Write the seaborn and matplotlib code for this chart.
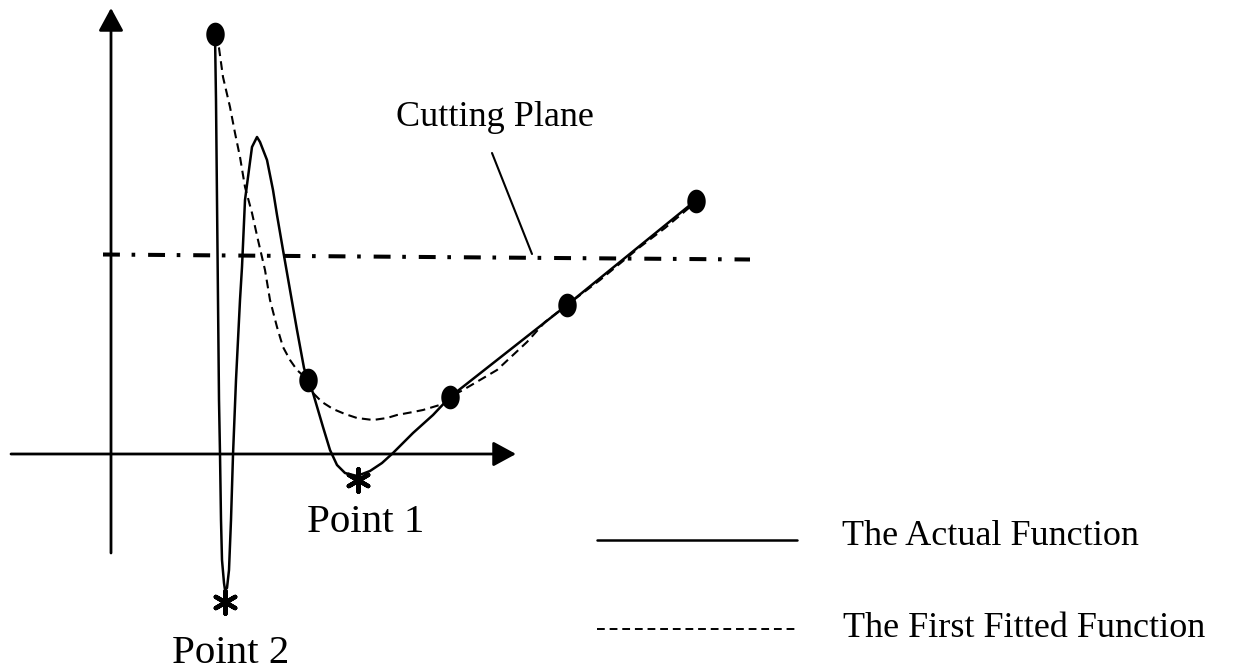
import numpy as np
import seaborn as sns
import matplotlib.pyplot as plt
from matplotlib.path import Path

# diagram drawn in pixel-like units (x to the right, y downward)
actual_x = [215, 216, 217, 218, 219, 220, 221, 222, 224, 225, 227, 229, 231, 233, 236, 240, 242, 245,
            250, 252, 257, 260, 267, 273, 277, 283, 290, 297, 304, 308, 313, 318, 323, 330, 337, 345,
            357, 370, 382, 393, 413, 433, 450, 567, 695]
actual_y = [34, 100, 200, 300, 400, 454, 520, 560, 583, 590, 588, 570, 520, 455, 380, 300, 267, 200,
            162, 147, 137, 142, 160, 190, 215, 250, 290, 330, 368, 380, 393, 410, 427, 450, 465, 473,
            476, 471, 463, 453, 433, 415, 397, 305, 201]

fitted_x = [215, 219, 223, 230, 235, 240, 245, 252, 258, 265, 270, 277, 283, 290, 297, 308, 313, 322,
            333, 345, 357, 373, 387, 397, 413, 423, 443, 450, 463, 497, 527, 545, 567, 600, 640, 665,
            690, 695]
fitted_y = [34, 48, 77, 107, 133, 157, 187, 213, 240, 270, 300, 327, 347, 360, 370, 380, 393, 402,
            409, 414, 418, 420, 418, 415, 412, 410, 404, 397, 390, 370, 342, 322, 305, 280, 247, 228,
            207, 201]

node_x = [215, 308, 450, 567, 696]
node_y = [34, 380, 397, 305, 201]

minima_x = [358, 225]
minima_y = [480, 602]
minima_labels = ["Point 1", "Point 2"]
label_x = [307, 172]
label_y = [532, 663]

plane_x = [103, 750]
plane_y = [254.5, 259.5]
leader_x = [492, 532]
leader_y = [153, 254]

legend_labels = ["The Actual Function", "The First Fitted Function"]
legend_y = [540, 629]

sns.set_style("white")
plt.rcParams["font.family"] = ["Liberation Serif", "DejaVu Serif"]
plt.rcParams["text.color"] = "black"

fig = plt.figure(figsize=(12.35, 6.71), dpi=100)
ax = fig.add_axes([0, 0, 1, 1])
ax.set_xlim(0, 1235)
ax.set_ylim(671, 0)
ax.axis("off")

# coordinate axes with arrow heads
arrow = dict(arrowstyle="-|>,head_length=0.7,head_width=0.38", color="black", lw=2,
             mutation_scale=20, shrinkA=0, shrinkB=0)
ax.annotate("", xy=(111, 8), xytext=(111, 553), arrowprops=arrow)
ax.annotate("", xy=(516, 454), xytext=(11, 454), arrowprops=arrow)

# cutting plane
sns.lineplot(x=plane_x, y=plane_y, sort=False, estimator=None, color="black", lw=2.9,
             linestyle=(0, (4.2, 2.9, 0.9, 3.2)), ax=ax)
sns.lineplot(x=leader_x, y=leader_y, sort=False, estimator=None, color="black", lw=1.5, ax=ax)
ax.text(396, 126, "Cutting Plane", fontsize=26, va="baseline", ha="left")

# functions
sns.lineplot(x=actual_x, y=actual_y, sort=False, estimator=None, color="black", lw=1.8, ax=ax)
sns.lineplot(x=fitted_x, y=fitted_y, sort=False, estimator=None, color="black", lw=1.5,
             linestyle=(0, (4.2, 2.5)), ax=ax)

t = np.linspace(0, 2 * np.pi, 60)
ellipse = Path(np.column_stack([0.78 * np.cos(t), np.sin(t)]))
sns.scatterplot(x=node_x, y=node_y, marker=ellipse, s=290, color="black", linewidth=0, ax=ax, zorder=5)
sns.scatterplot(x=minima_x, y=minima_y, marker=(6, 2, 0), s=260, color="black", linewidth=3.2,
                ax=ax, zorder=5)
for lx, ly, lab in zip(label_x, label_y, minima_labels):
    ax.text(lx, ly, lab, fontsize=29.5, va="baseline", ha="left")

# legend drawn by hand
sns.lineplot(x=[597, 797], y=[legend_y[0]] * 2, sort=False, estimator=None, color="black", lw=1.8, ax=ax)
sns.lineplot(x=[597, 797], y=[legend_y[1]] * 2, sort=False, estimator=None, color="black", lw=1.4,
             linestyle=(0, (4, 2.5)), ax=ax)
ax.text(842, 545, legend_labels[0], fontsize=26, va="baseline", ha="left")
ax.text(843, 637, legend_labels[1], fontsize=26, va="baseline", ha="left")

fig.savefig("out.png", dpi=100)
